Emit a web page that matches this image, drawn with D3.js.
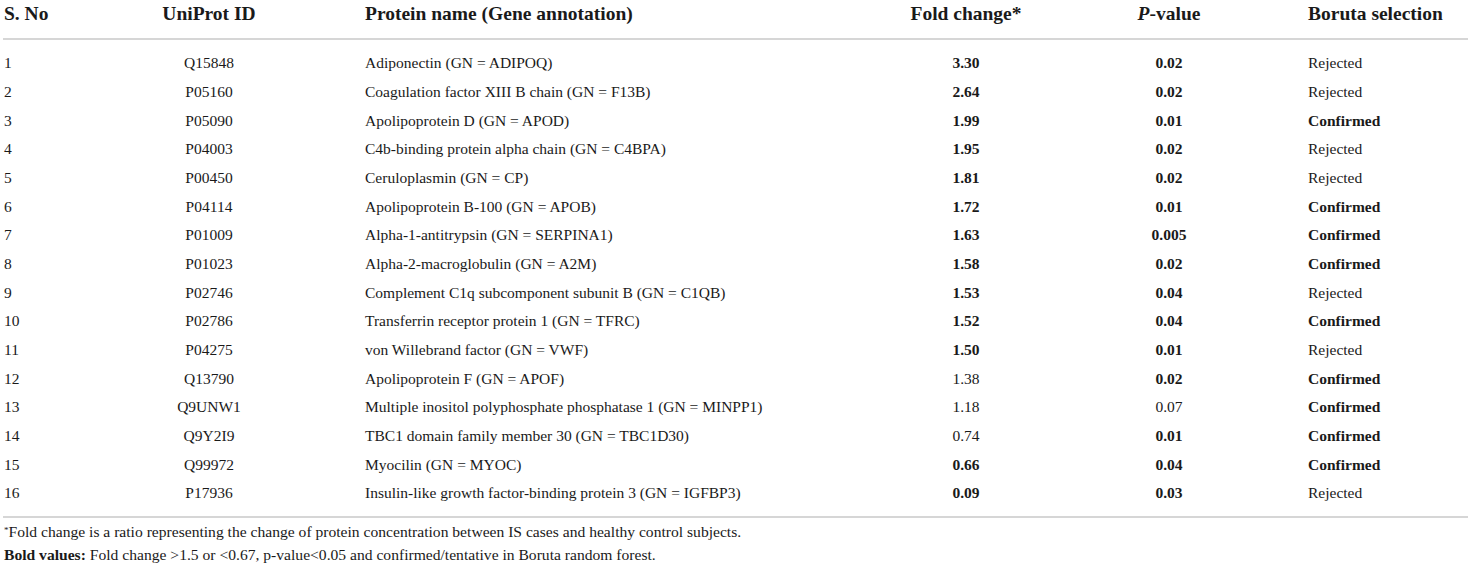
<!DOCTYPE html>
<html>
<head>
<meta charset="utf-8">
<script src="https://cdn.jsdelivr.net/npm/d3@7"></script>
<style>
  body { margin: 0; background: #fff; }
  svg { display: block; font-family: "Liberation Serif", "Times New Roman", serif; }
</style>
</head>
<body>
<svg id="table" width="1471" height="570"></svg>
<script>
var sNo = [1, 2, 3, 4, 5, 6, 7, 8, 9, 10, 11, 12, 13, 14, 15, 16];
var uniprot = ["Q15848", "P05160", "P05090", "P04003", "P00450", "P04114", "P01009", "P01023",
    "P02746", "P02786", "P04275", "Q13790", "Q9UNW1", "Q9Y2I9", "Q99972", "P17936"];
var proteins = [
    "Adiponectin (GN = ADIPOQ)",
    "Coagulation factor XIII B chain (GN = F13B)",
    "Apolipoprotein D (GN = APOD)",
    "C4b-binding protein alpha chain (GN = C4BPA)",
    "Ceruloplasmin (GN = CP)",
    "Apolipoprotein B-100 (GN = APOB)",
    "Alpha-1-antitrypsin (GN = SERPINA1)",
    "Alpha-2-macroglobulin (GN = A2M)",
    "Complement C1q subcomponent subunit B (GN = C1QB)",
    "Transferrin receptor protein 1 (GN = TFRC)",
    "von Willebrand factor (GN = VWF)",
    "Apolipoprotein F (GN = APOF)",
    "Multiple inositol polyphosphate phosphatase 1 (GN = MINPP1)",
    "TBC1 domain family member 30 (GN = TBC1D30)",
    "Myocilin (GN = MYOC)",
    "Insulin-like growth factor-binding protein 3 (GN = IGFBP3)"
];
var foldChange = ["3.30", "2.64", "1.99", "1.95", "1.81", "1.72", "1.63", "1.58",
    "1.53", "1.52", "1.50", "1.38", "1.18", "0.74", "0.66", "0.09"];
var pValue = ["0.02", "0.02", "0.01", "0.02", "0.02", "0.01", "0.005", "0.02",
    "0.04", "0.04", "0.01", "0.02", "0.07", "0.01", "0.04", "0.03"];
var boruta = ["Rejected", "Rejected", "Confirmed", "Rejected", "Rejected", "Confirmed", "Confirmed", "Confirmed",
    "Rejected", "Confirmed", "Rejected", "Confirmed", "Confirmed", "Confirmed", "Confirmed", "Rejected"];

var svg = d3.select("#table");
var W = 1471;
var ink = "#1a1a1a";

// row positions
var yRow = d3.scaleLinear().domain([0, 15]).range([63, 493]);

// column layout
var cols = [
    {key: "sno", x: 4, anchor: "start"},
    {key: "id", x: 209, anchor: "middle"},
    {key: "name", x: 365, anchor: "start"},
    {key: "fold", x: 966, anchor: "middle"},
    {key: "p", x: 1169, anchor: "middle"},
    {key: "boruta", x: 1308, anchor: "start"}
];
var colX = {};
cols.forEach(function (c) { colX[c.key] = c; });

function headCell(key, parts) {
    var t = svg.append("text")
        .attr("x", colX[key].x)
        .attr("y", 13)
        .attr("dy", "0.35em")
        .attr("text-anchor", colX[key].anchor)
        .attr("font-size", 19.5)
        .attr("font-weight", "bold")
        .attr("fill", ink);
    parts.forEach(function (p) {
        t.append("tspan").attr("font-style", p.italic ? "italic" : null).text(p.text);
    });
}
headCell("sno", [{text: "S. No"}]);
headCell("id", [{text: "UniProt ID"}]);
headCell("name", [{text: "Protein name (Gene annotation)"}]);
headCell("fold", [{text: "Fold change*"}]);
headCell("p", [{text: "P", italic: true}, {text: "-value"}]);
headCell("boruta", [{text: "Boruta selection"}]);

// rules
[39, 517].forEach(function (y) {
    svg.append("line").attr("x1", 3).attr("x2", W - 3).attr("y1", y).attr("y2", y)
        .attr("stroke", "#c8c8c8").attr("stroke-width", 1.5);
});

// body rows
var rows = sNo.map(function (n, i) {
    return {
        sno: String(n),
        id: uniprot[i],
        name: proteins[i],
        fold: foldChange[i],
        p: pValue[i],
        boruta: boruta[i],
        foldBold: (+foldChange[i] >= 1.5 || +foldChange[i] < 0.67),
        pBold: +pValue[i] < 0.05,
        borutaBold: boruta[i] === "Confirmed"
    };
});

var rowG = svg.selectAll(".row")
    .data(rows)
    .enter()
    .append("g")
    .attr("class", "row")
    .attr("transform", function (d, i) { return "translate(0," + yRow(i) + ")"; });

cols.forEach(function (c) {
    rowG.append("text")
        .attr("x", c.x)
        .attr("dy", "0.35em")
        .attr("text-anchor", c.anchor)
        .attr("font-size", 15.5)
        .attr("fill", ink)
        .attr("font-weight", function (d) {
            if (c.key === "fold") return d.foldBold ? "bold" : null;
            if (c.key === "p") return d.pBold ? "bold" : null;
            if (c.key === "boruta") return d.borutaBold ? "bold" : null;
            return null;
        })
        .text(function (d) { return d[c.key]; });
});

// footnotes
var f1 = svg.append("text").attr("x", 4).attr("y", 537).attr("dy", "0.35em")
    .attr("font-size", 15.6).attr("fill", ink);
f1.append("tspan").attr("font-size", 9).attr("dy", "-0.4em").text("*");
f1.append("tspan").attr("dy", "0.25em").text("Fold change is a ratio representing the change of protein concentration between IS cases and healthy control subjects.");

var f2 = svg.append("text").attr("x", 4).attr("y", 555).attr("dy", "0.35em")
    .attr("font-size", 15.6).attr("fill", ink);
f2.append("tspan").attr("font-weight", "bold").text("Bold values:");
f2.append("tspan").text(" Fold change >1.5 or <0.67, p-value<0.05 and confirmed/tentative in Boruta random forest.");
</script>
</body>
</html>
